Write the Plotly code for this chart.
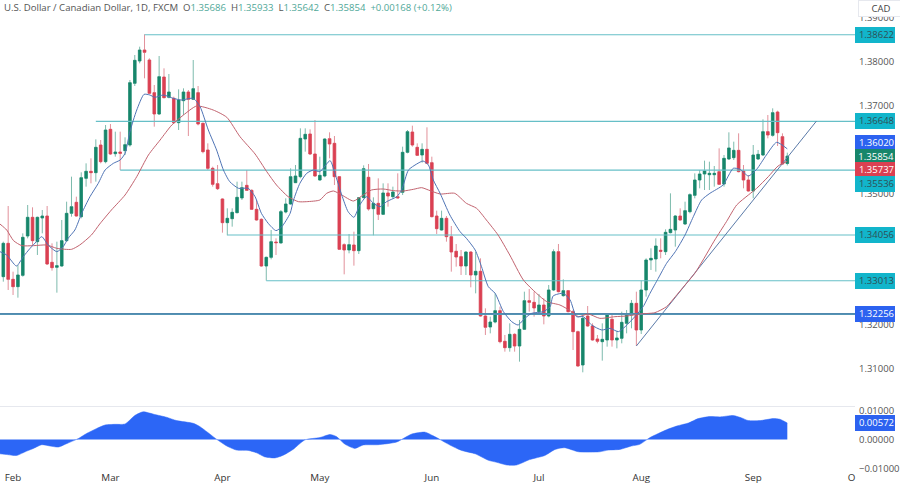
import plotly.graph_objects as go
from plotly.subplots import make_subplots

# daily USD/CAD candles (0 = 30 Jan)
opens = [1.33106,1.33866,1.33045,1.32878,1.33136,1.34033,1.34459,1.33904,1.34444,1.34489,
1.33433,1.33319,1.33349,1.33927,1.3455,1.34801,1.34474,1.35348,1.35508,1.35477,
1.36108,1.35728,1.36465,1.3591,1.35948,1.35979,1.36108,1.37514,1.38023,1.38274,
1.38046,1.37301,1.36815,1.37658,1.37195,1.37172,1.36617,1.37119,1.37316,1.37149,
1.37301,1.36602,1.35994,1.35576,1.35226,1.34877,1.34337,1.34428,1.34565,1.349,
1.35188,1.35074,1.34641,1.34413,1.33349,1.33547,1.33896,1.33874,1.3458,1.34763,
1.35249,1.35386,1.36245,1.36359,1.35903,1.3531,1.35401,1.36252,1.36146,1.35386,
1.33836,1.33714,1.33828,1.33699,1.34907,1.35371,1.34656,1.34778,1.34527,1.35014,
1.3493,1.3493,1.35029,1.35941,1.36404,1.36055,1.3588,1.36009,1.35705,1.34489,
1.3417,1.34436,1.34018,1.33684,1.33562,1.33349,1.33668,1.33144,1.33228,1.32209,
1.31959,1.32072,1.32331,1.31632,1.31487,1.31791,1.31525,1.31905,1.32559,1.32521,
1.32308,1.3246,1.32209,1.32802,1.33676,1.32673,1.32787,1.32308,1.31852,1.31092,
1.32209,1.31981,1.31685,1.31624,1.31662,1.32133,1.31662,1.317,1.32042,1.32232,
1.32498,1.3189,1.32802,1.33486,1.33509,1.33707,1.33676,1.34109,1.3417,1.34489,
1.34307,1.34588,1.3496,1.3531,1.35447,1.35431,1.35431,1.355,1.35219,1.35789,
1.35819,1.35986,1.35515,1.3531,1.35059,1.35789,1.3588,1.36412,1.36328,1.3686,
1.36298,1.35686]
highs = [1.33904,1.34717,1.3322,1.33372,1.34094,1.3474,1.34687,1.34474,1.34626,1.34717,
1.33866,1.33904,1.34398,1.34816,1.35386,1.3493,1.35485,1.3569,1.35804,1.36237,
1.36222,1.36564,1.36587,1.36412,1.36412,1.36283,1.3759,1.3816,1.3835,1.38631,
1.38084,1.37476,1.38137,1.37856,1.37727,1.3721,1.37377,1.374,1.37362,1.38046,
1.37453,1.36617,1.36146,1.35614,1.35652,1.34892,1.34664,1.34664,1.35272,1.35272,
1.35538,1.35097,1.34854,1.34436,1.33562,1.3417,1.3398,1.34626,1.34892,1.35576,
1.35652,1.36488,1.36488,1.36465,1.36678,1.35842,1.3626,1.36397,1.36313,1.35401,
1.33866,1.34079,1.34132,1.34915,1.35644,1.35675,1.34915,1.35348,1.35234,1.35234,
1.35158,1.35462,1.3607,1.3645,1.36549,1.36146,1.36146,1.36511,1.35842,1.34611,
1.34611,1.34489,1.34261,1.33851,1.33714,1.33684,1.33684,1.33676,1.33524,1.32384,
1.32194,1.32726,1.32422,1.31776,1.32042,1.31814,1.32118,1.32764,1.32825,1.32764,
1.32711,1.32612,1.32916,1.33729,1.33851,1.33045,1.32802,1.32346,1.31875,1.32194,
1.32437,1.32042,1.31776,1.32042,1.32255,1.3227,1.31875,1.32308,1.32346,1.32574,
1.32764,1.33015,1.33524,1.33752,1.3398,1.3398,1.34185,1.35006,1.34512,1.34664,
1.34816,1.35006,1.35462,1.35538,1.35751,1.35728,1.35629,1.36032,1.3588,1.36397,
1.36184,1.36374,1.35652,1.35424,1.36108,1.35994,1.36693,1.36792,1.36944,1.36891,
1.36374,1.35933]
lows = [1.32992,1.32802,1.32688,1.32627,1.33106,1.3398,1.33828,1.336,1.34094,1.33372,
1.33243,1.32741,1.33334,1.33904,1.34474,1.34474,1.34436,1.35158,1.35234,1.35272,
1.3569,1.3569,1.3588,1.35842,1.35538,1.3588,1.3607,1.37453,1.3797,1.37628,
1.37271,1.36526,1.36792,1.37172,1.37172,1.36587,1.3645,1.36792,1.36313,1.37134,
1.36556,1.35918,1.35538,1.35158,1.35082,1.34109,1.34048,1.34246,1.3455,1.34854,
1.35067,1.34626,1.34383,1.33334,1.33015,1.33501,1.336,1.33866,1.3455,1.34748,
1.35249,1.35348,1.35956,1.3588,1.35386,1.35295,1.35371,1.35804,1.35196,1.33714,
1.33159,1.33638,1.33357,1.33623,1.34892,1.34611,1.34048,1.34398,1.34512,1.34702,
1.34892,1.34892,1.34968,1.35918,1.3607,1.35857,1.35705,1.35675,1.34459,1.34079,
1.34155,1.33904,1.3322,1.33334,1.33144,1.33144,1.32863,1.32726,1.32194,1.31776,
1.31814,1.32042,1.31586,1.31396,1.31396,1.31396,1.31168,1.3189,1.32308,1.32194,
1.32293,1.32019,1.32179,1.32779,1.32749,1.3265,1.32293,1.31434,1.31054,1.30925,
1.31966,1.31647,1.31586,1.31191,1.3151,1.3151,1.31472,1.31586,1.31814,1.31928,
1.31525,1.31799,1.3265,1.33258,1.3322,1.33524,1.336,1.34094,1.3379,1.34383,
1.34284,1.3455,1.34892,1.3512,1.35082,1.35082,1.35158,1.35196,1.35158,1.35766,
1.35766,1.35485,1.3512,1.35044,1.34892,1.35766,1.35857,1.3626,1.36298,1.36085,
1.35652,1.35642]
closes = [1.33866,1.33045,1.32878,1.33144,1.34003,1.34459,1.33927,1.34459,1.34489,1.33395,
1.33311,1.33357,1.33927,1.3455,1.34702,1.34489,1.35363,1.35508,1.35477,1.36055,
1.35728,1.3645,1.35903,1.35948,1.35918,1.36116,1.37529,1.38038,1.38274,1.38221,
1.37286,1.36815,1.37666,1.37187,1.37316,1.36617,1.37134,1.37316,1.37149,1.37392,
1.36587,1.35956,1.35576,1.35211,1.35112,1.34337,1.34436,1.34573,1.34915,1.35135,
1.35074,1.34641,1.34398,1.33349,1.33547,1.33904,1.33881,1.34588,1.34763,1.35386,
1.35401,1.3626,1.36351,1.35903,1.35401,1.35416,1.36245,1.36131,1.35386,1.33729,
1.33714,1.33836,1.33699,1.34907,1.35568,1.34649,1.34778,1.34527,1.35014,1.34945,
1.35036,1.349,1.35941,1.36412,1.36108,1.35872,1.36009,1.3569,1.34474,1.342,
1.34436,1.34018,1.33668,1.33554,1.33349,1.33668,1.33144,1.33228,1.32209,1.31951,
1.32072,1.32331,1.31624,1.31487,1.31791,1.31525,1.31905,1.32559,1.32521,1.32392,
1.3246,1.32209,1.32802,1.33676,1.32764,1.32787,1.32308,1.31852,1.31069,1.32156,
1.31981,1.31662,1.31632,1.31677,1.32232,1.31662,1.31708,1.32065,1.32232,1.32498,
1.3189,1.32802,1.33486,1.33524,1.33805,1.33684,1.34117,1.34185,1.34489,1.34398,
1.34611,1.34976,1.3531,1.35447,1.35515,1.35462,1.35462,1.35211,1.35804,1.3604,
1.35986,1.355,1.3531,1.35059,1.3588,1.35895,1.36412,1.36336,1.36845,1.36389,
1.35675,1.35854]

# moving averages, sampled along the drawn lines
fast_x = [-0.7,0.7,2.7,4.1,5.5,6.8,7.9,9.2,11,12.3,13.3,14.7,16.1,17.8,19.5,20.9,22.6,24,25,26,
27.4,28.9,30.1,31.1,32.9,34.9,36.6,39,40.4,42.1,43.8,45.2,46.5,48.3,50.3,51.7,53,54.4,56,57.2,
58.9,59.6,60.9,62.3,63.7,65,67.1,68.1,69.5,70.8,72,73.2,74.6,76,77.4,78.7,80.8,81.8,83.2,84.9,
86.2,87.3,88.3,89.7,91.7,93.8,95.1,96.9,98.2,99.6,101,102.7,104.4,105.7,107.1,108.5,110.9,112.3,112.9,115,
116.4,117.7,119.1,120.8,122.9,124.6,126.3,127.7,129.7,131.4,132.8,134.5,136.2,138,140,141.7,143.4,145.1,147.8,149.9,
151.3,153,154.7,156.7,158.8,161]
fast_y = [1.33676,1.336,1.33349,1.33562,1.33752,1.33904,1.34018,1.33828,1.33676,1.3379,1.3398,1.3417,1.3455,1.3493,1.35234,1.35538,1.3569,1.35766,1.35918,1.36412,
1.36906,1.37263,1.37248,1.37195,1.37248,1.37172,1.37134,1.37172,1.36982,1.3645,1.35994,1.35538,1.35272,1.3512,1.3512,1.3493,1.3455,1.34322,1.34155,1.34246,
1.3455,1.34854,1.35234,1.35462,1.35538,1.355,1.35751,1.35462,1.34968,1.34588,1.34459,1.3474,1.3493,1.34778,1.34702,1.34816,1.3493,1.35082,1.35538,1.35675,
1.35743,1.35652,1.3531,1.35006,1.34512,1.34132,1.3398,1.33714,1.33334,1.32878,1.32726,1.32308,1.3208,1.32004,1.32156,1.3227,1.32308,1.32422,1.32665,1.32726,
1.32574,1.32194,1.32194,1.32004,1.3189,1.31928,1.31852,1.31966,1.32194,1.32422,1.32726,1.33068,1.3341,1.33676,1.34056,1.34474,1.34854,1.35006,1.35196,1.35576,
1.35553,1.35401,1.35553,1.3588,1.36169,1.3602]
slow_x = [-0.7,0.7,2.1,3.8,6.2,8.9,11,14,15.7,18.1,19.8,22.2,25,27.4,29.8,32.2,34.6,37,39.7,43.1,
45.9,48.6,51.7,54.1,56.1,58.5,60.6,62.3,65,66.4,67.8,69.5,71.9,73.9,75.6,78,80.1,82.1,84.2,85.9,
87.3,89.7,92.7,95.1,97.2,99.2,101.6,104,106.8,109.5,111.6,114.3,116.4,118.1,120.1,122.5,125.6,128,130.7,133.8,
136.2,138,140,142,143.7,146.1,148.5,150.6,153,154.7,157.1,159.1,161]
slow_y = [1.34307,1.3417,1.33927,1.33813,1.33813,1.33828,1.33752,1.33729,1.33828,1.34056,1.34307,1.34626,1.34968,1.35386,1.3588,1.36222,1.36564,1.36792,1.36997,1.36906,
1.36739,1.36298,1.35903,1.355,1.35196,1.3493,1.34816,1.34816,1.34854,1.35006,1.35059,1.34968,1.34831,1.34968,1.35082,1.35105,1.35067,1.35059,1.35097,1.35135,
1.35082,1.34991,1.35006,1.34778,1.34664,1.34398,1.34056,1.336,1.3303,1.32726,1.32536,1.3246,1.32331,1.32194,1.32255,1.32156,1.32194,1.32209,1.32255,1.32285,
1.32422,1.3265,1.32916,1.33182,1.33486,1.33942,1.3436,1.3474,1.34968,1.3512,1.35386,1.35629,1.35737]

# lower pane oscillator
osc_x = [-0.7,0.7,2.7,4.8,6.2,7.9,9.6,11.3,13,15.4,17.1,19.2,20.9,22.9,25,27,28.7,31.1,33.5,35.6,
39,40.4,43.8,45.9,47.9,50.3,52,53.7,55.8,57.5,59.5,61.9,65,67.1,68.4,70.2,72.2,73.9,77,80.8,
83.8,86.6,88.3,91.7,94.1,96.9,99.6,101.3,103.4,105.4,108.1,111.2,113.3,115.3,118.1,122.5,124.2,126.6,129,130.7,
132.8,136.2,138.3,140.7,142.7,145.1,147.2,149.9,151.6,153,155.4,158.1,159.5,161]
osc_y = [-0.00491,-0.00515,-0.0055,-0.00398,-0.00304,-0.00176,-0.00222,-0.00257,-0.0014,0.00035,0.00211,0.00386,0.00503,0.00527,0.00538,0.00831,0.00959,0.00866,0.00772,0.00655,
0.00562,0.00445,0.00012,-0.00222,-0.00363,-0.00374,-0.00456,-0.00597,-0.00632,-0.00538,-0.00339,-0.00012,0.0007,0.00176,0.00105,-0.00164,-0.00304,-0.00187,-0.00176,-0.00082,
0.00187,0.00257,0.00129,-0.00187,-0.00374,-0.00491,-0.00714,-0.00784,-0.00878,-0.00878,-0.0069,-0.0055,-0.00339,-0.00281,-0.00421,-0.00421,-0.00363,-0.00339,-0.00222,-0.00164,
0.0007,0.00339,0.00468,0.00573,0.00725,0.00796,0.00784,0.00831,0.00749,0.00655,0.00655,0.00725,0.00702,0.00572]

# drawn horizontal levels: price, and the candle each one starts from
level_prices = [1.38622, 1.36648, 1.35536, 1.34056, 1.33013]
level_starts = [29, 19, 24, 46, 54]
support_price = 1.32256
trend_x = [130, 167]
trend_y = [1.31525, 1.36655]

month_ticks = [2, 22, 45, 65, 88, 110, 131, 154, 174.2]
month_names = ["Feb", "Mar", "Apr", "May", "Jun", "Jul", "Aug", "Sep", "O"]
price_ticks = [1.31, 1.32, 1.33, 1.34, 1.35, 1.36, 1.37, 1.38, 1.39]
osc_ticks = [-0.01, 0, 0.01]

FONT = "Open Sans"
UP = "#17866b"
DOWN = "#db4052"
LEVEL = "#66bfc7"
CYAN = "#12b5cb"

x = list(range(len(opens)))
body_hi = [max(o, c) for o, c in zip(opens, closes)]
body_lo = [min(o, c) for o, c in zip(opens, closes)]

fig = make_subplots(rows=2, cols=1, shared_xaxes=True, vertical_spacing=0, row_heights=[406, 64])

for px_start, price in zip(level_starts, level_prices):
    fig.add_trace(go.Scatter(x=[px_start, 175], y=[price, price], mode="lines",
                             line=dict(color=LEVEL, width=1.2)), row=1, col=1)
fig.add_trace(go.Scatter(x=[-1, 175], y=[support_price, support_price], mode="lines",
                         line=dict(color=LEVEL, width=2)), row=1, col=1)
fig.add_trace(go.Scatter(x=[-1, 175], y=[support_price, support_price], mode="lines",
                         line=dict(color="#3f5f9e", width=1)), row=1, col=1)
fig.add_trace(go.Scatter(x=trend_x, y=trend_y, mode="lines",
                         line=dict(color="#5a7aa8", width=1)), row=1, col=1)

# wicks are paler than the bodies, so two candlestick traces
fig.add_trace(go.Candlestick(x=x, open=opens, high=highs, low=lows, close=closes,
                             increasing=dict(line=dict(color="#7dbbad", width=1), fillcolor="#7dbbad"),
                             decreasing=dict(line=dict(color="#e2919b", width=1), fillcolor="#e2919b"),
                             whiskerwidth=0), row=1, col=1)
fig.add_trace(go.Candlestick(x=x, open=opens, high=body_hi, low=body_lo, close=closes,
                             increasing=dict(line=dict(color=UP, width=0.5), fillcolor=UP),
                             decreasing=dict(line=dict(color=DOWN, width=0.5), fillcolor=DOWN),
                             whiskerwidth=0), row=1, col=1)

fig.add_trace(go.Scatter(x=slow_x, y=slow_y, mode="lines",
                         line=dict(color="#c2636f", width=1, shape="spline", smoothing=0.6)), row=1, col=1)
fig.add_trace(go.Scatter(x=fast_x, y=fast_y, mode="lines",
                         line=dict(color="#4f74b5", width=1, shape="spline", smoothing=0.6)), row=1, col=1)

fig.add_trace(go.Scatter(x=osc_x, y=osc_y, mode="lines", fill="tozeroy", fillcolor="#2c66f6",
                         line=dict(color="#2c66f6", width=0.5, shape="spline", smoothing=0.6)), row=2, col=1)


def price_label(value, bg, color, shift=0, axis="y"):
    fig.add_annotation(x=1, xref="paper", xanchor="left", y=value, yref=axis, yshift=shift,
                       text=f"{value:.5f}", showarrow=False, align="right",
                       width=38, height=13.5, bgcolor=bg, borderpad=1, borderwidth=0,
                       font=dict(family=FONT, size=9.5, color=color))


for price in level_prices[:2] + level_prices[3:]:
    price_label(price, CYAN, "#2f4f55")
price_label(support_price, "#2c62f0", "#ffffff")
# last-value tags pushed apart the way the platform stacks them
price_label(1.36020, "#2c62f0", "#ffffff", shift=6)
price_label(1.35854, UP, "#ffffff", shift=-1)
price_label(1.35737, DOWN, "#ffffff", shift=-9)
price_label(1.35536, CYAN, "#2f4f55", shift=-14)
price_label(0.00572, "#2c62f0", "#ffffff", axis="y2")

fig.add_annotation(x=1, xref="paper", xanchor="left", xshift=3, y=1, yref="paper", yanchor="top",
                   text="CAD", showarrow=False, width=44, height=15, bgcolor="#ffffff",
                   bordercolor="#e6e8ee", borderwidth=1, borderpad=0, align="center",
                   font=dict(family=FONT, size=9.5, color="#444444"))

NUM = "#4fa898"
head = ("U.S. Dollar / Canadian Dollar, 1D, FXCM &nbsp;"
        f"O<span style='color:{NUM}'>1.35686</span> &nbsp;H<span style='color:{NUM}'>1.35933</span> &nbsp;"
        f"L<span style='color:{NUM}'>1.35642</span> &nbsp;C<span style='color:{NUM}'>1.35854</span> &nbsp;"
        f"<span style='color:{NUM}'>+0.00168 (+0.12%)</span>")
fig.add_annotation(x=0, xref="paper", xanchor="left", xshift=3, y=1, yref="paper", yanchor="top",
                   text=head, showarrow=False, borderpad=0, font=dict(family=FONT, size=9.6, color="#555555"))

fig.update_layout(width=900, height=491, margin=dict(l=0, r=45, t=0, b=21, autoexpand=False),
                  plot_bgcolor="#ffffff", paper_bgcolor="#ffffff", showlegend=False,
                  boxgap=0.25, font=dict(family=FONT, size=9.5, color="#555555"))
fig.update_xaxes(range=[-0.68, 174.9], showgrid=False, zeroline=False, rangeslider_visible=False,
                 tickmode="array", tickvals=month_ticks, ticktext=month_names, ticks="",
                 tickfont=dict(family=FONT, size=9.8, color="#333333"))
fig.update_xaxes(showline=True, linecolor="#e6e8ee", linewidth=1, row=1, col=1)
fig.update_yaxes(side="right", showgrid=False, zeroline=False, ticks="", tickmode="array",
                 ticklabelstandoff=3)
fig.update_yaxes(range=[1.30157, 1.39414], tickvals=price_ticks, tickformat=".5f", row=1, col=1)
fig.update_yaxes(range=[-0.0105, 0.0116], tickvals=osc_ticks, tickformat=".5f", row=2, col=1)

# the page's default 8px body margin would push the figure off the window
fig.write_html("out.html", config={"displayModeBar": False},
               post_script="document.body.style.margin = '0';")
